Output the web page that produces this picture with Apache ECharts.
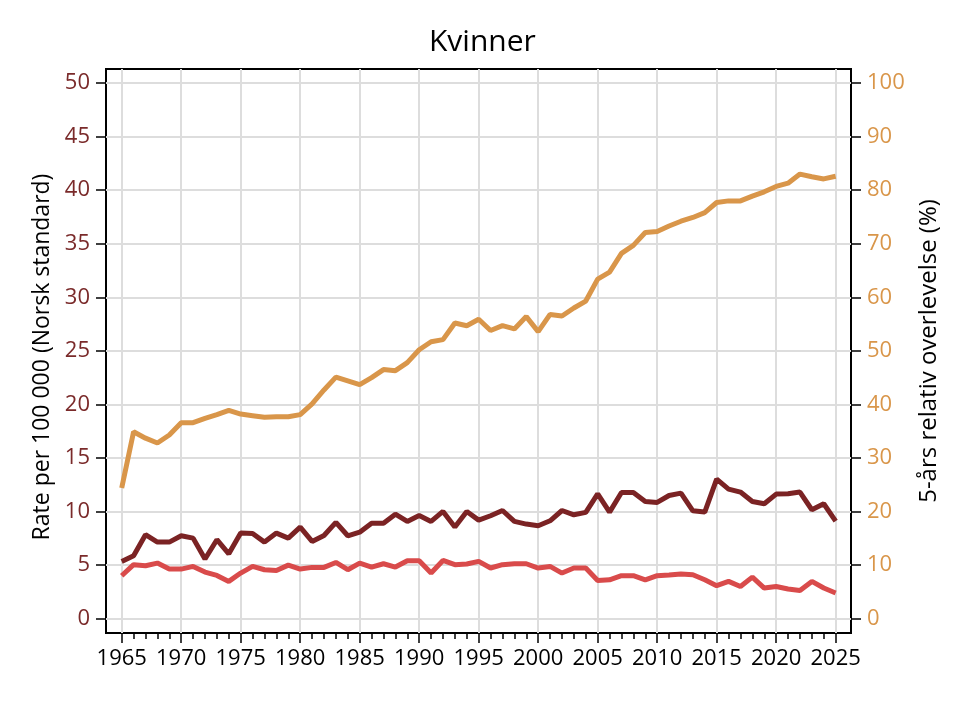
<!DOCTYPE html>
<html>
<head>
<meta charset="utf-8">
<script src="https://cdn.jsdelivr.net/npm/echarts@6/dist/echarts.min.js"></script>
<style>html,body{margin:0;padding:0;background:#fff}#c{width:970px;height:706px}</style>
</head>
<body>
<div id="c"></div>
<script>
const years = [];
for (let y = 1965; y <= 2025; y++) years.push(y);

const survival = [24.4,34.9,33.7,32.8,34.3,36.6,36.6,37.4,38.1,38.9,38.2,37.9,37.6,37.7,37.7,38.1,40.1,42.7,45.1,44.4,43.7,45.0,46.5,46.3,47.8,50.2,51.7,52.1,55.2,54.7,55.9,53.8,54.7,54.1,56.4,53.6,56.8,56.5,58.0,59.3,63.4,64.7,68.2,69.7,72.1,72.3,73.3,74.2,74.9,75.8,77.7,78.0,78.0,78.9,79.7,80.7,81.3,83.0,82.5,82.1,82.6];
const incidence = [5.35,5.88,7.84,7.15,7.15,7.74,7.52,5.57,7.37,6.06,7.99,7.95,7.15,7.99,7.52,8.55,7.21,7.77,8.99,7.74,8.08,8.92,8.92,9.76,9.08,9.64,9.08,10.01,8.55,10.01,9.2,9.61,10.1,9.08,8.83,8.68,9.14,10.1,9.7,9.92,11.66,9.95,11.78,11.78,10.94,10.85,11.5,11.72,10.07,9.95,13.03,12.1,11.82,10.94,10.73,11.63,11.66,11.82,10.17,10.73,9.1];
const mortality = [4.01,5.04,4.94,5.19,4.63,4.63,4.88,4.35,4.04,3.48,4.26,4.88,4.57,4.5,5.0,4.63,4.79,4.79,5.25,4.57,5.19,4.82,5.13,4.82,5.41,5.41,4.26,5.44,5.04,5.1,5.35,4.73,5.04,5.13,5.13,4.73,4.88,4.26,4.73,4.73,3.57,3.63,4.01,4.01,3.63,4.01,4.07,4.17,4.1,3.63,3.08,3.48,3.0,3.88,2.86,3.0,2.77,2.64,3.48,2.86,2.4];

const leftTicks = [0,5,10,15,20,25,30,35,40,45,50];
const rightTicks = [0,10,20,30,40,50,60,70,80,90,100];
const xMajor = [1965,1970,1975,1980,1985,1990,1995,2000,2005,2010,2015,2020,2025];

const title = 'Kvinner';
const leftName = 'Rate per 100 000 (Norsk standard)';
const rightName = '5-års relativ overlevelse (%)';

const FONT = '"Open Sans", "Noto Sans", sans-serif';
const cOrange = '#D9964A', cDark = '#7B2324', cRed = '#D94B4B';
const cLeftLbl = '#7A2A2A', cRightLbl = '#D9964A';

const pair = (arr) => years.map((y, i) => [y, arr[i]]);

const chart = echarts.init(document.getElementById('c'), null, {renderer: 'canvas'});
chart.setOption({
  animation: false,
  backgroundColor: '#fff',
  title: {
    text: title, left: 424, top: 22,
    textStyle: {fontFamily: FONT, fontSize: 30, fontWeight: 'normal', color: '#000'}
  },
  grid: {left: 106, right: 119, top: 69, bottom: 73, show: true, borderColor: '#000', borderWidth: 2, backgroundColor: 'transparent'},
  xAxis: [{
    type: 'value', min: 1963.68, max: 2026.29,
    axisLine: {show: false, onZero: false},
    splitLine: {show: false},
    axisTick: {show: true, customValues: xMajor, length: 10, lineStyle: {color: '#000', width: 1.5}},
    axisLabel: {customValues: xMajor, formatter: v => String(v), color: '#000', fontFamily: FONT, fontSize: 22, margin: 15}
  }, {
    type: 'value', min: 1963.68, max: 2026.29, position: 'bottom',
    axisLine: {show: false, onZero: false}, splitLine: {show: false},
    axisTick: {show: true, customValues: years, length: 6, lineStyle: {color: '#000', width: 1.5}},
    axisLabel: {show: false}
  }],
  yAxis: [{
    type: 'value', min: -1.335, max: 51.31, position: 'left',
    name: leftName, nameLocation: 'middle', nameRotate: 90, nameGap: 52,
    nameTextStyle: {fontFamily: FONT, fontSize: 23, color: '#000', padding: [0, 12, 0, 0]},
    axisLine: {show: false, onZero: false}, splitLine: {show: false},
    axisTick: {show: true, customValues: leftTicks, length: 10, lineStyle: {color: '#000', width: 1.5}},
    axisLabel: {customValues: leftTicks, color: cLeftLbl, fontFamily: FONT, fontSize: 22, margin: 16}
  }, {
    type: 'value', min: -2.67, max: 102.62, position: 'right',
    name: rightName, nameLocation: 'middle', nameRotate: 90, nameGap: 66,
    nameTextStyle: {fontFamily: FONT, fontSize: 24, color: '#000'},
    axisLine: {show: false, onZero: false}, splitLine: {show: false},
    axisTick: {show: true, customValues: rightTicks, length: 10, lineStyle: {color: '#000', width: 1.5}},
    axisLabel: {customValues: rightTicks, color: cRightLbl, fontFamily: FONT, fontSize: 22, margin: 16}
  }],
  series: [{
    type: 'line', data: [], z: 1, silent: true,
    markLine: {
      silent: true, symbol: 'none', animation: false,
      label: {show: false},
      lineStyle: {color: '#DDDDDD', width: 2, type: 'solid'},
      data: xMajor.map(v => ({xAxis: v})).concat(leftTicks.map(v => ({yAxis: v})))
    }
  }, {
    name: 'survival', type: 'line', yAxisIndex: 1, data: pair(survival), z: 5,
    showSymbol: false, lineStyle: {color: cOrange, width: 5}, itemStyle: {color: cOrange}
  }, {
    name: 'incidence', type: 'line', yAxisIndex: 0, data: pair(incidence), z: 5,
    showSymbol: false, lineStyle: {color: cDark, width: 5}, itemStyle: {color: cDark}
  }, {
    name: 'mortality', type: 'line', yAxisIndex: 0, data: pair(mortality), z: 5,
    showSymbol: false, lineStyle: {color: cRed, width: 5}, itemStyle: {color: cRed}
  }]
});
</script>
</body>
</html>
